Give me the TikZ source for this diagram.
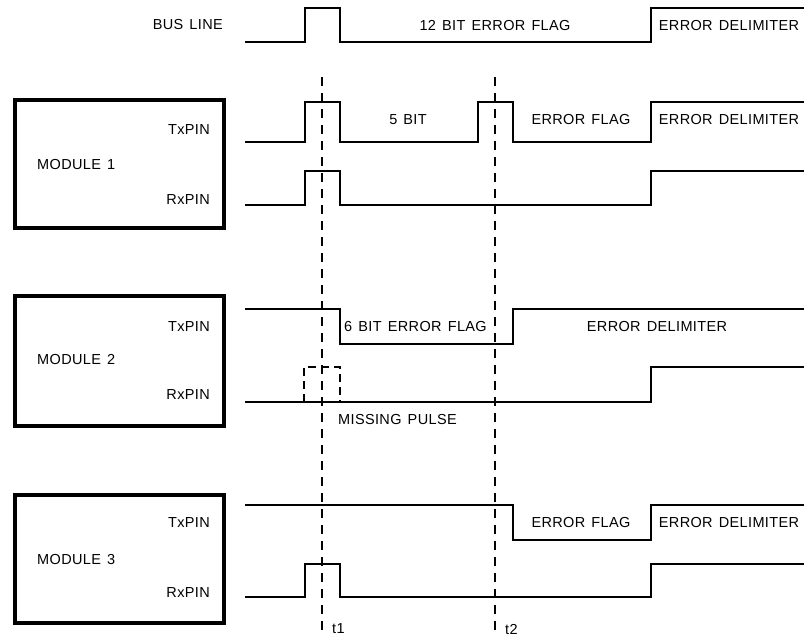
\documentclass[tikz,border=0pt]{standalone}
\usepackage{fontspec}
\setmainfont{Liberation Sans}[LetterSpace=2.5,WordSpace=1.4]

\begin{document}
\begin{tikzpicture}[x=1pt,y=-1pt,
  sig/.style={line width=2.8pt,line join=miter},
  box/.style={line width=4pt},
  tmark/.style={line width=1.2pt,dash pattern=on 9pt off 7pt},
  lbl/.style={font=\fontsize{14.5}{16}\selectfont,inner sep=0pt}]
\useasboundingbox (0,0) rectangle (804,637);
% bus line
\node[lbl,anchor=east] (bus) at (223,25) {BUS LINE};
\draw[sig] (245,42) -- (305,42) -- (305,8) -- (340,8) -- (340,42) -- (651,42) -- (651,8) -- (804,8);
\node[lbl] (busflag) at (495,26) {12 BIT ERROR FLAG};
\node[lbl] (busdelim) at (729,26) {ERROR DELIMITER};
% time marks
\draw[tmark] (322,77) -- (322,637);
\draw[tmark] (495,77) -- (495,637);
\node[lbl,anchor=west] (tone) at (332,629) {t1};
\node[lbl,anchor=west] (ttwo) at (505,629) {t2};
% module 1
\draw[box] (15,100) rectangle (224,228);
\node[lbl,anchor=east] (txa) at (210,130) {TxPIN};
\node[lbl,anchor=west] (moda) at (37,165) {MODULE 1};
\node[lbl,anchor=east] (rxa) at (210,200) {RxPIN};
\draw[sig] (245,142) -- (305,142) -- (305,102) -- (340,102) -- (340,142) -- (478,142) -- (478,102)
  -- (513,102) -- (513,142) -- (651,142) -- (651,102) -- (804,102);
\draw[sig] (245,205) -- (305,205) -- (305,171) -- (340,171) -- (340,205) -- (651,205) -- (651,171) -- (804,171);
\node[lbl] (bita) at (408,120) {5 BIT};
\node[lbl] (flaga) at (581,120) {ERROR FLAG};
\node[lbl] (delima) at (729,120) {ERROR DELIMITER};
% module 2
\draw[box] (15,296) rectangle (224,426);
\node[lbl,anchor=east] (txb) at (210,327) {TxPIN};
\node[lbl,anchor=west] (modb) at (37,360) {MODULE 2};
\node[lbl,anchor=east] (rxb) at (210,395) {RxPIN};
\draw[sig] (245,309) -- (340,309) -- (340,344) -- (513,344) -- (513,309) -- (804,309);
\draw[sig] (245,402) -- (651,402) -- (651,367) -- (804,367);
\draw[line width=2.6pt,dash pattern=on 8pt off 5pt] (304,402) -- (304,367) -- (340,367) -- (340,402);
\node[lbl,anchor=west] (flagb) at (344,327) {6 BIT ERROR FLAG};
\node[lbl] (delimb) at (657,327) {ERROR DELIMITER};
\node[lbl,anchor=west] (miss) at (338,420) {MISSING PULSE};
% module 3
\draw[box] (15,495) rectangle (224,623);
\node[lbl,anchor=east] (txc) at (210,523) {TxPIN};
\node[lbl,anchor=west] (modc) at (37,560) {MODULE 3};
\node[lbl,anchor=east] (rxc) at (210,593) {RxPIN};
\draw[sig] (245,505) -- (513,505) -- (513,540) -- (651,540) -- (651,505) -- (804,505);
\draw[sig] (245,597) -- (305,597) -- (305,564) -- (340,564) -- (340,597) -- (651,597) -- (651,564) -- (804,564);
\node[lbl] (flagc) at (581,523) {ERROR FLAG};
\node[lbl] (delimc) at (729,523) {ERROR DELIMITER};
\end{tikzpicture}
\end{document}
